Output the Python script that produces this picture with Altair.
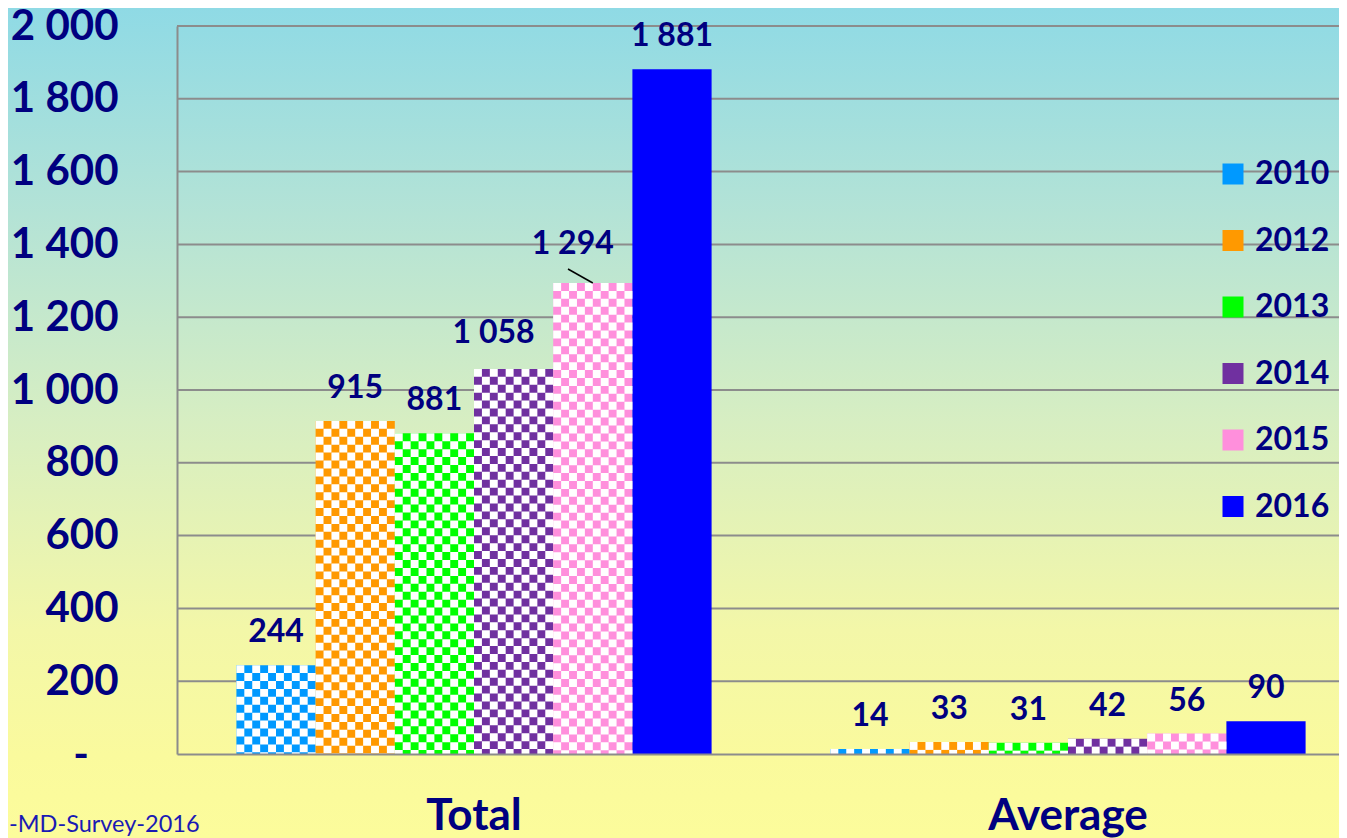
import altair as alt
import pandas as pd

# ---------------- data ----------------
categories = ["Total", "Average"]
years = ["2010", "2012", "2013", "2014", "2015", "2016"]
total_values = [244, 915, 881, 1058, 1294, 1881]
average_values = [14, 33, 31, 42, 56, 90]
year_colors = ["#0099FF", "#FF9900", "#00FF00", "#7030A0", "#FF8FDC", "#0000FF"]
patterned_years = ["2010", "2012", "2013", "2014", "2015"]
grid_ticks = [200, 400, 600, 800, 1000, 1200, 1400, 1600, 1800, 2000]
source_text = "-MD-Survey-2016"

rows = []
for cat, vals in zip(categories, [total_values, average_values]):
    for yr, v in zip(years, vals):
        rows.append({"cat": cat, "year": yr, "value": v,
                     "label": f"{v:,}".replace(",", " ")})
df = pd.DataFrame(rows)
grid_df = pd.DataFrame({"value": grid_ticks})

# checker columns (10 per patterned bar) for the pattern fill
N_COLS = 10
chk_rows = []
for r in rows:
    if r["year"] in patterned_years:
        for k in range(N_COLS):
            chk_rows.append({"cat": r["cat"], "value": r["value"],
                             "sub": f"{r['year']}-{k}", "odd": k % 2})
chk_df = pd.DataFrame(chk_rows)
sub_domain = [f"{y}-{k}" for y in years for k in range(N_COLS)]

# ---------------- layout ----------------
W, H = 1162, 728
PAD = {"left": 169, "top": 18, "right": 0, "bottom": 84}
NAVY = "#000080"
GRID = "#8C8C8C"
FONT = "Lato"
BAND = 594
STEP = BAND / (len(years) + 1.5)
CELL = STEP / N_COLS
GROUP0 = 0.75 * STEP

x_axis = alt.Axis(labelAngle=0, ticks=False, tickSize=0, domain=True,
                  domainColor=GRID, domainWidth=2, labelFont=FONT,
                  labelFontSize=44, labelFontWeight="bold", labelColor=NAVY,
                  labelPadding=75, labelBaseline="alphabetic", title=None,
                  zindex=1)
y_axis = alt.Axis(values=[0] + grid_ticks,
                  labelExpr="datum.value == 0 ? '' : replace(format(datum.value, ','), ',', ' ')",
                  grid=False, ticks=False, tickSize=0, domain=True,
                  domainColor=GRID, domainWidth=2, labelFont=FONT,
                  labelFontSize=42, labelFontWeight="bold", labelColor=NAVY,
                  labelPadding=59, title=None, zindex=1, labelOverlap=False)

X = alt.X("cat:N", sort=categories,
          scale=alt.Scale(domain=categories, range=[0, 2 * BAND],
                          paddingInner=0, paddingOuter=0),
          axis=x_axis)
XO = alt.XOffset("year:N", sort=years,
                 scale=alt.Scale(type="band", domain=years, paddingInner=0,
                                 paddingOuter=0, range=[GROUP0, BAND - GROUP0]))
XO_SUB = alt.XOffset("sub:N", sort=sub_domain,
                     scale=alt.Scale(type="band", domain=sub_domain, paddingInner=0,
                                     paddingOuter=0, range=[GROUP0, BAND - GROUP0]))
Y = alt.Y("value:Q", scale=alt.Scale(domain=[0, 2000], nice=False), axis=y_axis)

# background gradient covering the whole chart
bg_grad = alt.Gradient(
    gradient="linear", x1=0, x2=0, y1=0, y2=1,
    stops=[alt.GradientStop(offset=0.0, color="#8FDAE5"),
           alt.GradientStop(offset=0.25, color="#B4E3D6"),
           alt.GradientStop(offset=0.5, color="#D7EEC2"),
           alt.GradientStop(offset=0.75, color="#F3F7A8"),
           alt.GradientStop(offset=0.9, color="#FAFA9D"),
           alt.GradientStop(offset=1.0, color="#FCFC9B")])
bg = alt.Chart(alt.Data(values=[{"k": 1}])).mark_rect(fill=bg_grad).encode(
    x=alt.value(-PAD["left"]), x2=alt.value(W),
    y=alt.value(-PAD["top"]), y2=alt.value(H + PAD["bottom"]))

grid = alt.Chart(grid_df).mark_rule(color=GRID, strokeWidth=2).encode(y=Y)

bars = alt.Chart(df).mark_bar().encode(
    x=X, xOffset=XO, y=Y,
    color=alt.Color("year:N", sort=years,
                    scale=alt.Scale(domain=years, range=year_colors),
                    legend=alt.Legend(orient="none", legendX=1040, legendY=132,
                                      title=None, symbolType="square",
                                      symbolSize=441, symbolStrokeWidth=0,
                                      labelFont=FONT, labelFontSize=32,
                                      labelFontWeight="bold", labelColor=NAVY,
                                      labelOffset=6, rowPadding=34.5, padding=0)))

# checker overlay: white dashed columns, alternating phase
chk_even = alt.Chart(chk_df).transform_filter("datum.odd == 0").mark_rule(
    color="white", strokeWidth=CELL, strokeDash=[CELL, CELL],
    strokeDashOffset=0, strokeCap="butt").encode(
    x=X, xOffset=XO_SUB, y=Y, y2=alt.datum(0))
chk_odd = alt.Chart(chk_df).transform_filter("datum.odd == 1").mark_rule(
    color="white", strokeWidth=CELL, strokeDash=[CELL, CELL],
    strokeDashOffset=CELL, strokeCap="butt").encode(
    x=X, xOffset=XO_SUB, y=Y, y2=alt.datum(0))

txt_kw = dict(font=FONT, fontSize=32, fontWeight="bold", color=NAVY,
              baseline="middle", align="center")
labels = alt.Chart(df).transform_filter(
    "datum.value != 1058 && datum.value != 1294").mark_text(dy=-33, **txt_kw).encode(
    x=X, xOffset=XO, y=Y, text="label:N")
label_1058 = alt.Chart(df).transform_filter("datum.value == 1058").mark_text(
    dy=-36, dx=-20, **txt_kw).encode(x=X, xOffset=XO, y=Y, text="label:N")
label_1294 = alt.Chart(df).transform_filter("datum.value == 1294").mark_text(
    dy=-39, dx=-20, **txt_kw).encode(x=X, xOffset=XO, y=Y, text="label:N")
leader = alt.Chart(df).transform_filter("datum.value == 1294").mark_rule(
    color="black", strokeWidth=1.5, x2Offset=94, y2Offset=-14).encode(
    x=X, x2=alt.X2("cat:N"), xOffset=XO, y=Y, y2=alt.Y2("value:Q"))

# zero tick label of the value axis is a dash
zero_lbl = alt.Chart(alt.Data(values=[{"value": 0}])).mark_text(
    text="-", font=FONT, fontSize=42, fontWeight="bold", color=NAVY,
    align="center", baseline="middle", dy=2).encode(
    x=alt.value(-96), y=Y)

source = alt.Chart(alt.Data(values=[{"t": source_text}])).mark_text(
    font=FONT, fontSize=23.5, color="#1A1AB4", align="left",
    baseline="alphabetic").encode(
    x=alt.value(-PAD["left"] + 1), y=alt.value(806), text="t:N")

chart = alt.layer(bg, grid, bars, chk_even, chk_odd, labels, label_1058,
                  label_1294, leader, zero_lbl, source).resolve_scale(
    xOffset="independent"
).properties(
    width=W, height=H,
    autosize=alt.AutoSizeParams(type="none"),
    padding=PAD,
).configure_view(stroke=None).configure(background="#FCFC9B")

chart.save("out.html", embed_options={"renderer": "svg", "actions": False})
